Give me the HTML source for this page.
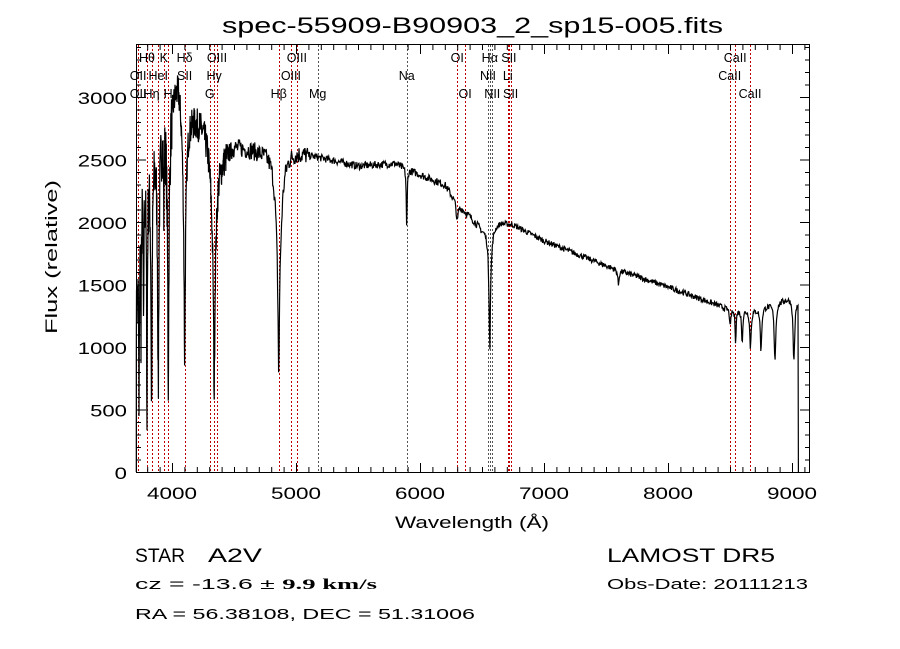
<!DOCTYPE html>
<html><head><meta charset="utf-8"><style>
body{margin:0;background:#fff;width:900px;height:649px;overflow:hidden}
svg{display:block}
text{font-family:"Liberation Sans","DejaVu Sans",sans-serif;fill:#000}
</style></head><body>
<svg id="s" width="900" height="649" viewBox="0 0 900 649">
<rect width="900" height="649" fill="#fff"/>
<g id="lines"></g>
<polyline id="spec" fill="none" stroke="#000" stroke-width="1.2"/>
<rect x="136.5" y="44.5" width="673" height="428" fill="none" stroke="#000" stroke-width="1"/>
<g id="ticks" stroke="#000" stroke-width="1"></g>
<g id="labs" font-size="12"></g>
<text x="222" y="33" font-size="22" textLength="501" lengthAdjust="spacingAndGlyphs">spec-55909-B90903_2_sp15-005.fits</text>
<text x="395" y="528" font-size="17" textLength="154" lengthAdjust="spacingAndGlyphs">Wavelength (Å)</text>
<text transform="translate(57,334) rotate(-90)" font-size="17" textLength="154" lengthAdjust="spacingAndGlyphs">Flux (relative)</text>
<text x="135" y="562" font-size="19" textLength="50" lengthAdjust="spacingAndGlyphs">STAR</text><text x="208" y="562" font-size="19" textLength="54" lengthAdjust="spacingAndGlyphs">A2V</text>
<text x="607" y="562" font-size="19" textLength="168" lengthAdjust="spacingAndGlyphs">LAMOST DR5</text>
<text x="135" y="589" font-size="15" textLength="242" lengthAdjust="spacingAndGlyphs">cz = -13.6 ± <tspan font-weight="bold" font-family="Liberation Serif">9.9 km/s</tspan></text>
<text x="607" y="589" font-size="15" textLength="201" lengthAdjust="spacingAndGlyphs">Obs-Date: 20111213</text>
<text x="135" y="619" font-size="15" textLength="340" lengthAdjust="spacingAndGlyphs">RA =  56.38108, DEC =  51.31006</text>
</svg>
<script>
var NS="http://www.w3.org/2000/svg";
function X(l){return 172+(l-4000)*0.124}
function Y(f){return 472-f*0.125}
function el(p,t,a,txt){var e=document.createElementNS(NS,t);for(var k in a)e.setAttribute(k,a[k]);if(txt)e.textContent=txt;document.getElementById(p).appendChild(e);return e}
for(var l=3800;l<=9100;l+=100){var x=X(l)+.5,m=(l%1000==0);
el("ticks","line",{x1:x,y1:472,x2:x,y2:m?463:467});el("ticks","line",{x1:x,y1:45,x2:x,y2:m?54:50});
if(m)el("labs","text",{x:X(l)-25,y:499,"font-size":17,textLength:50,lengthAdjust:"spacingAndGlyphs"},""+l);}
for(var f=0;f<=3400;f+=100){var y=Y(f)+.5,m=(f%500==0);
el("ticks","line",{x1:137,y1:y,x2:m?146:141,y2:y});el("ticks","line",{x1:809,y1:y,x2:m?800:805,y2:y});
if(m){var s=""+f,w=s.length*12.3;el("labs","text",{x:127-w,y:Y(f)+7,"font-size":17,textLength:w,lengthAdjust:"spacingAndGlyphs"},s);}}
var L=[[3727,"OII",2,"r"],[3727,"OII",1,"r"],[3798,"Hθ",0,"r"],[3835,"Hη",2,"r"],[3889,"HeI",1,"r"],[3934,"K",0,"r"],[3969,"H",2,"r"],[3970,"",1,"r"],[4102,"Hδ",0,"r"],[4102,"SII",1,"k"],[4304,"G",2,"r"],[4340,"Hγ",1,"r"],[4363,"OIII",0,"r"],[4861,"Hβ",2,"r"],[4959,"OIII",1,"r"],[5007,"OIII",0,"r"],[5175,"Mg",2,"k"],[5893,"Na",1,"k"],[6300,"OI",0,"r"],[6364,"OI",2,"r"],[6548,"NII",1,"k"],[6563,"Hα",0,"k"],[6583,"NII",2,"k"],[6708,"Li",1,"r"],[6717,"SII",0,"r"],[6731,"SII",2,"r"],[8498,"CaII",1,"r"],[8542,"CaII",0,"r"],[8662,"CaII",2,"r"]];
var done={};
L.forEach(function(a){var x=Math.round(X(a[0]))+.5;if(!done[x]){done[x]=1;el("lines","line",{x1:x,y1:45,x2:x,y2:472,stroke:a[3]=="r"?"#c00000":"#555","stroke-width":1,"stroke-dasharray":"2,2"});}
if(a[1])el("labs","text",{x:X(a[0]),y:62+a[2]*18,"text-anchor":"middle","font-size":12.5},a[1]);});
var seed=7;function R(){seed=(seed*16807)%2147483647;return seed/2147483647}
var C=[[3710,1200],[3750,2300],[3850,2600],[3950,2900],[4050,3200],[4150,2900],[4250,2800],[4300,2700],[4400,2550],[4500,2620],[4700,2580],[5000,2570],[5200,2520],[5500,2450],[5800,2470],[6000,2380],[6200,2300],[6300,2150],[6500,1950],[6650,2000],[6750,1980],[7000,1850],[7500,1650],[8000,1480],[8500,1300],[8700,1300],[9000,1400],[9060,1350]];
function cont(l){for(var i=0;i<C.length-1;i++)if(l<=C[i+1][0]){var t=(l-C[i][0])/(C[i+1][0]-C[i][0]);return C[i][1]+t*(C[i+1][1]-C[i][1])}return 1350}
var A=[[4861,1000,25],[4861,800,5],[4340,1000,22],[4340,1000,5],[4102,1000,18],[4102,1100,5],[3970,1000,12],[3970,1200,4],[3934,600,3],[3889,900,10],[3889,1100,4],[3835,800,8],[3835,1200,4],[3798,700,6],[3798,1200,3],[3770,1200,3],[3750,1300,3],[3734,1400,3],[6563,500,14],[6563,500,4],[5893,500,4],[6300,150,8],[7600,120,6],[8502,150,5],[8545,250,5],[8598,250,6],[8665,300,7],[8750,350,7],[8863,450,8],[9015,500,8]];
var pts=[];
for(var l=3712;l<=9050;l+=(l<4500?2:4)){var f=cont(l);
A.forEach(function(a){var d=(l-a[0])/a[2];f-=a[1]/(1+d*d)});
var n=l<4000?500:(l<4450?260:(l<5100?150:(l<6500?60:45)));f+=(R()-.5)*n;if(f<0)f=0;
pts.push(X(l).toFixed(1)+","+Y(f).toFixed(1));}
pts.unshift(X(3712).toFixed(1)+","+Y(0));
pts.push(X(9052).toFixed(1)+","+Y(0));
document.getElementById("spec").setAttribute("points",pts.join(" "));
</script>
</body></html>
